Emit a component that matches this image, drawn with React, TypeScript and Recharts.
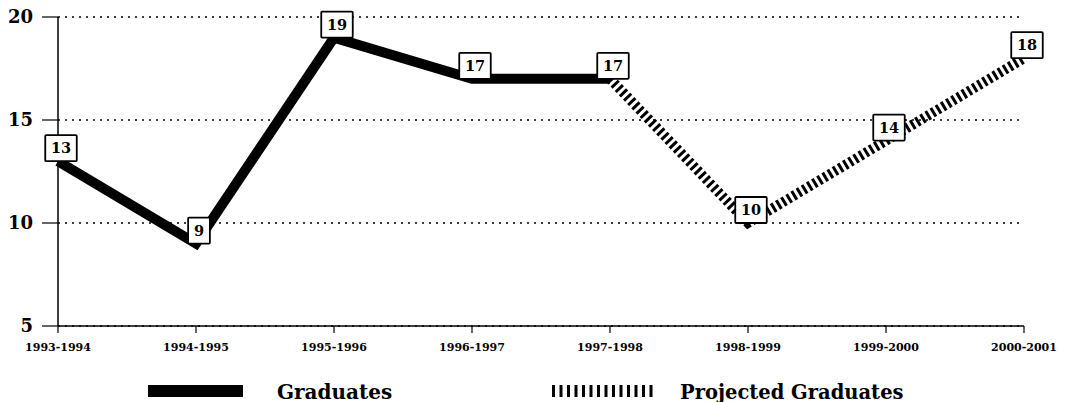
import React from "react";
import {
  LineChart,
  Line,
  XAxis,
  YAxis,
  CartesianGrid,
  Legend,
  LabelList,
} from "recharts";

// ── Data ──
const years = [
  "1993-1994",
  "1994-1995",
  "1995-1996",
  "1996-1997",
  "1997-1998",
  "1998-1999",
  "1999-2000",
  "2000-2001",
];
const graduates = [13, 9, 19, 17, 17, null, null, null];
const projected = [null, null, null, null, 17, 10, 14, 18];
const yTicks = [5, 10, 15, 20];

const data = years.map((year, i) => ({
  year,
  graduates: graduates[i],
  projected: projected[i],
}));

const FONT = "'DejaVu Serif', 'Liberation Serif', serif";

// ── Axis ticks ──
function YTick({ x, y, payload }: any) {
  return (
    <text
      x={x}
      y={y}
      dy={6}
      textAnchor="end"
      fontFamily={FONT}
      fontWeight="bold"
      fontSize={18}
      fill="#000"
    >
      {payload.value}
    </text>
  );
}

function XTick({ x, y, payload }: any) {
  return (
    <text
      x={x}
      y={y}
      dy={8}
      textAnchor="middle"
      fontFamily={FONT}
      fontWeight="bold"
      fontSize={11}
      fill="#000"
    >
      {payload.value}
    </text>
  );
}

// ── Boxed value label ──
function BoxLabel(props: any) {
  const { x, y, value, index, skip } = props;
  if (value == null || skip?.includes(index)) return null;
  const txt = String(value);
  const w = txt.length * 9.75 + 12;
  const h = 26;
  const cx = x + 3;
  const cy = y - 13;
  return (
    <g>
      <rect
        x={cx - w / 2}
        y={cy - h / 2}
        width={w}
        height={h}
        fill="#fff"
        stroke="#000"
        strokeWidth={1.8}
        rx={1}
      />
      <text
        x={cx}
        y={cy + 5}
        textAnchor="middle"
        fontFamily={FONT}
        fontWeight="bold"
        fontSize={14.5}
        fill="#000"
      >
        {txt}
      </text>
    </g>
  );
}

// ── Legend ──
function ChartLegend() {
  const stripes = [];
  for (let sx = 552; sx < 650; sx += 7.5) {
    stripes.push(<rect key={sx} x={sx} y={5} width={3} height={12} fill="#000" />);
  }
  return (
    <svg width={1065} height={24} style={{ display: "block" }}>
      <rect x={148} y={5} width={95} height={12} fill="#000" />
      <text x={277} y={19} fontFamily={FONT} fontWeight="bold" fontSize={20} fill="#000">
        Graduates
      </text>
      {stripes}
      <text x={680} y={19} fontFamily={FONT} fontWeight="bold" fontSize={19.5} fill="#000">
        Projected Graduates
      </text>
    </svg>
  );
}

export default function App() {
  return (
    <div style={{ position: "absolute", left: 0, top: 0, background: "#fff" }}>
      <LineChart
        width={1065}
        height={402}
        data={data}
        margin={{ top: 17, right: 41, left: 0, bottom: 46 }}
      >
        <CartesianGrid
          vertical={false}
          stroke="#000"
          strokeWidth={1.5}
          strokeDasharray="2 5"
        />
        <XAxis
          dataKey="year"
          scale="point"
          padding={{ left: 0, right: 0 }}
          height={30}
          tickSize={7}
          tickMargin={10}
          axisLine={{ stroke: "#000", strokeWidth: 1.5 }}
          tickLine={{ stroke: "#000", strokeWidth: 1.2 }}
          tick={<XTick />}
          interval={0}
        />
        <YAxis
          domain={[5, 20]}
          ticks={yTicks}
          width={58}
          tickSize={16}
          tickMargin={9}
          axisLine={{ stroke: "#000", strokeWidth: 1.5 }}
          tickLine={{ stroke: "#000", strokeWidth: 1.2 }}
          tick={<YTick />}
        />
        <Legend
          layout="horizontal"
          verticalAlign="middle"
          align="center"
          wrapperStyle={{ top: 380, left: 0, width: 1065 }}
          content={() => <ChartLegend />}
        />
        <Line
          type="linear"
          dataKey="projected"
          stroke="#000"
          strokeWidth={10}
          strokeDasharray="3 3"
          dot={false}
          activeDot={false}
          isAnimationActive={false}
          connectNulls={false}
        >
          <LabelList dataKey="projected" content={(p: any) => <BoxLabel {...p} skip={[4]} />} />
        </Line>
        <Line
          type="linear"
          dataKey="graduates"
          stroke="#000"
          strokeWidth={10}
          dot={false}
          activeDot={false}
          isAnimationActive={false}
          connectNulls={false}
        >
          <LabelList dataKey="graduates" content={(p: any) => <BoxLabel {...p} />} />
        </Line>
      </LineChart>
    </div>
  );
}
